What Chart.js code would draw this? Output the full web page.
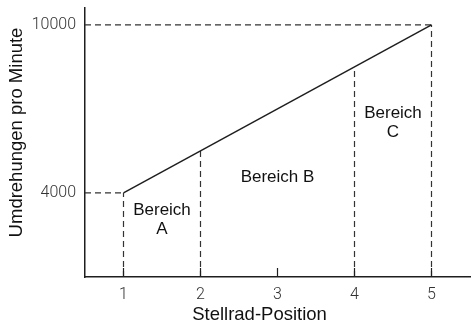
<!DOCTYPE html>
<html>
  <head>
    <title>Stellrad-Position</title>
    <script src="https://cdn.jsdelivr.net/npm/chart.js@4/dist/chart.umd.min.js"></script>
    <style>
      html, body { margin: 0; padding: 0; background: #fff; }
      #container { width: 472px; height: 328px; }
    </style>
  </head>

  <body>
    <div id="container">
      <canvas id="canvas"></canvas>
    </div>
    <script>
      // Werte
      const positions = [1, 2, 3, 4, 5];
      const rpm = [4000, 5500, 7000, 8500, 10000];
      const yTicks = [4000, 10000];
      const guidePositions = [1, 2, 4, 5];   // gestrichelte Senkrechten
      const guideLevels = [4000, 10000];     // gestrichelte Waagerechten
      const regionLabels = [
        { text: ['Bereich', 'A'], x: 1.5, y: 3050 },
        { text: ['Bereich B'], x: 3, y: 4570 },
        { text: ['Bereich', 'C'], x: 4.5, y: 6500 },
      ];
      const xTitle = 'Stellrad-Position';
      const yTitle = 'Umdrehungen pro Minute';

      const xMin = 0.5, xMax = 5.5, yMin = 1000, yMax = 10600;

      const ink = '#1e1e1e';
      const textFont = '"Liberation Sans", Arial, sans-serif';

      // gestrichelte Hilfslinien aus den Datenpunkten
      const guides = [];
      guidePositions.forEach((p) => {
        const v = rpm[positions.indexOf(p)];
        guides.push({ x: p, y: yMin }, { x: p, y: v }, { x: p, y: null });
      });
      guideLevels.forEach((v) => {
        const p = positions[rpm.indexOf(v)];
        guides.push({ x: xMin, y: v }, { x: p, y: v }, { x: p, y: null });
      });

      const labelsPlugin = {
        id: 'regionLabels',
        afterDatasetsDraw(chart) {
          const { ctx, scales, chartArea } = chart;
          ctx.save();
          // kleine Striche über der x-Achse
          ctx.strokeStyle = ink;
          ctx.lineWidth = 1.2;
          positions.forEach((p) => {
            const px = scales.x.getPixelForValue(p);
            ctx.beginPath();
            ctx.moveTo(px, scales.y.bottom);
            ctx.lineTo(px, scales.y.bottom - 9);
            ctx.stroke();
          });
          ctx.fillStyle = '#111';
          ctx.font = '17px ' + textFont;
          ctx.textAlign = 'center';
          ctx.textBaseline = 'middle';
          regionLabels.forEach((l) => {
            const px = scales.x.getPixelForValue(l.x);
            const py = scales.y.getPixelForValue(l.y);
            const lh = 19;
            const y0 = py - ((l.text.length - 1) * lh) / 2;
            l.text.forEach((t, i) => ctx.fillText(t, px, y0 + i * lh));
          });

          // Achsentitel
          ctx.font = '18.5px ' + textFont;
          ctx.fillText(xTitle, (chartArea.left + chartArea.right) / 2 - 18, chartArea.bottom + 38);
          ctx.translate(17, (chartArea.top + chartArea.bottom) / 2 - 10);
          ctx.rotate(-Math.PI / 2);
          ctx.fillText(yTitle, 0, 0);
          ctx.restore();
        },
      };

      new Chart(document.getElementById('canvas'), {
        type: 'line',
        data: {
          datasets: [
            {
              data: positions.map((p, i) => ({ x: p, y: rpm[i] })),
              borderColor: ink,
              borderWidth: 1.5,
              pointRadius: 0,
              tension: 0,
            },
            {
              data: guides,
              borderColor: '#333',
              borderWidth: 1.2,
              borderDash: [6, 4],
              pointRadius: 0,
              spanGaps: false,
            },
          ],
        },
        options: {
          responsive: true,
          maintainAspectRatio: false,
          animation: false,
          layout: { padding: { top: 8, right: 2, left: 0, bottom: 0 } },
          plugins: { legend: { display: false }, tooltip: { enabled: false } },
          scales: {
            x: {
              type: 'linear',
              min: xMin,
              max: xMax,
              afterBuildTicks: (s) => { s.ticks = positions.map((v) => ({ value: v })); },
              afterFit: (s) => { s.height = 51; s.paddingLeft = 0; s.paddingRight = 0; },
              grid: { display: false, drawTicks: false },
              border: { display: true, color: ink, width: 1.5 },
              ticks: {
                padding: 8,
                color: '#333',
                font: { family: 'Roboto', weight: 300, size: 16 },
              },
            },
            y: {
              min: yMin,
              max: yMax,
              afterBuildTicks: (s) => { s.ticks = yTicks.map((v) => ({ value: v })); },
              afterFit: (s) => { s.width = 85; s.paddingTop = 0; s.paddingBottom = 0; },
              grid: { display: false, drawTicks: false },
              border: { display: true, color: ink, width: 1.5 },
              ticks: {
                padding: 9,
                color: '#333',
                font: { family: 'Roboto', weight: 300, size: 16 },
                callback: (v) => String(v),
              },
            },
          },
        },
        plugins: [labelsPlugin],
      });
    </script>
  </body>
</html>
